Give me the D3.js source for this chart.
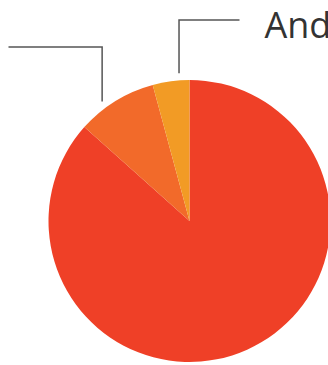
<!DOCTYPE html>
<html>
<head>
<meta charset="utf-8">
<script src="https://cdn.jsdelivr.net/npm/d3@7"></script>
<style>
  html, body { margin: 0; padding: 0; background: #fff; overflow: hidden; }
  svg { display: block; }
</style>
</head>
<body>
<div id="chart"></div>
<script>
// slice data, clockwise from 12 o'clock
const categories = ['Other', 'iOS', 'Android'];
const shares = [86.6, 9.2, 4.2];
const colors = ['#ef4027', '#f26a2a', '#f29b25'];

// which slices get a leader line + label, and where the label sits
const labelled = ['iOS', 'Android'];
const labelSide = { 'iOS': 'left', 'Android': 'right' };
const labelRise = { 'iOS': 174, 'Android': 201 }; // px above centre
const labelNudge = { 'iOS': -4.5, 'Android': 3.5 }; // degrees off the slice middle
const showText = { 'iOS': false, 'Android': true }; // left label falls outside the frame

const width = 328, height = 365;
const cx = 189.5, cy = 221, radius = 141;

const svg = d3.select('#chart')
    .append('svg')
    .attr('width', width)
    .attr('height', height);

const g = svg.append('g').attr('transform', `translate(${cx},${cy})`);

const data = categories.map((c, i) => ({ name: c, value: shares[i], color: colors[i] }));

const pie = d3.pie()
    .sort(null)
    .value(d => d.value);

const arc = d3.arc()
    .innerRadius(0)
    .outerRadius(radius);

const arcs = pie(data);

g.selectAll('path.slice')
    .data(arcs)
    .enter()
    .append('path')
    .attr('class', 'slice')
    .attr('d', arc)
    .attr('fill', d => d.data.color);

// leader lines: radial start just outside the pie, straight up, then out sideways
const leaderR = radius + 7;
const leaders = arcs.filter(d => labelled.includes(d.data.name));

leaders.forEach(d => {
    const mid = (d.startAngle + d.endAngle) / 2 + labelNudge[d.data.name] * Math.PI / 180;
    const x0 = leaderR * Math.sin(mid);
    const y0 = -leaderR * Math.cos(mid);
    const y1 = -labelRise[d.data.name];
    const side = labelSide[d.data.name];
    const x2 = side === 'right' ? 50 : -181;
    const tx = side === 'right' ? x2 + 25 : x2 - 25;

    g.append('path')
        .attr('d', `M${x0},${y0}V${y1}H${x2}`)
        .attr('fill', 'none')
        .attr('stroke', '#555')
        .attr('stroke-width', 1.5);

    if (showText[d.data.name]) {
        g.append('text')
            .attr('x', tx)
            .attr('y', y1 + 18)
            .attr('text-anchor', side === 'right' ? 'start' : 'end')
            .attr('fill', '#333')
            .style('font-family', '"Open Sans", sans-serif')
            .style('font-size', '36px')
            .text(d.data.name);
    }
});
</script>
</body>
</html>
